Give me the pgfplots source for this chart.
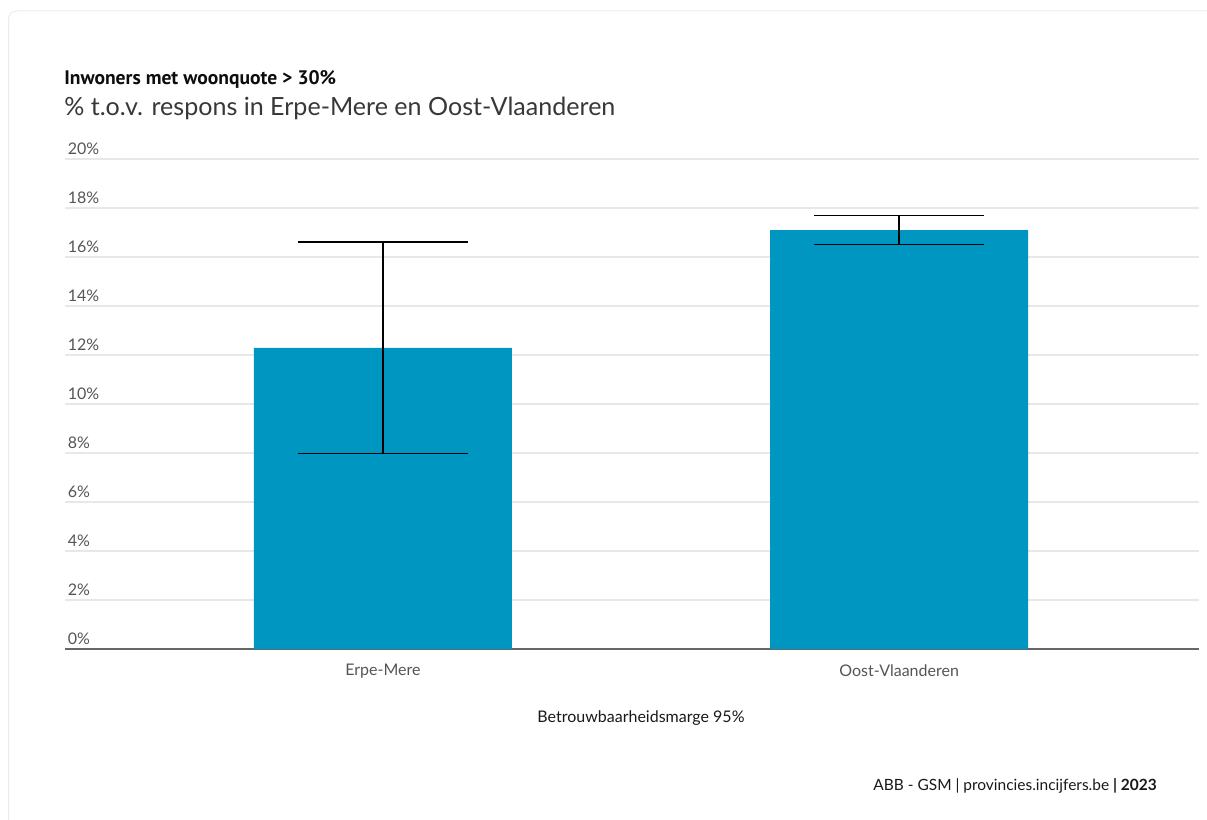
\documentclass[border=0pt]{standalone}
\usepackage{pgfplots}
\pgfplotsset{compat=1.18}
\usepackage{fontspec}
\setmainfont{Lato}
\newfontfamily\titlefont{PT Sans}
\definecolor{barblue}{HTML}{0096C2}
\definecolor{ticktext}{HTML}{555555}
\definecolor{gridgray}{HTML}{E8E8E8}
\definecolor{basegray}{HTML}{666666}
\begin{document}
\begin{tikzpicture}
\begin{scope}[x=0.75pt,y=0.75pt]
\useasboundingbox (0,0) rectangle (1207,819);
\clip (0,0) rectangle (1207,819);
\draw[draw=black!8, line width=0.75pt, rounded corners=6] (8.5,-20) rectangle (1230,808);
\node[anchor=base west, inner sep=0, font=\titlefont\fontsize{14.7}{18}\selectfont\bfseries, text=black!95] at (64,734) {Inwoners met woonquote > 30\%};
\node[anchor=base west, inner sep=0, font=\fontsize{18.8}{22}\selectfont, text=black!78] at (64,703) {\% t.o.v. respons in Erpe-Mere en Oost-Vlaanderen};
\node[anchor=base, inner sep=0, font=\fontsize{12}{14}\selectfont, text=black!90] at (641,97) {Betrouwbaarheidsmarge 95\%};
\node[anchor=base east, inner sep=0, font=\fontsize{11.6}{14}\selectfont, text=black!90] at (1157,29) {ABB - GSM | provincies.incijfers.be \textbf{| 2023}};
\end{scope}
\begin{axis}[
  at={(48.75pt,127.5pt)}, anchor=south west,
  scale only axis, width=850.5pt, height=367.5pt,
  xmin=-0.616, xmax=1.581, ymin=0, ymax=20,
  ybar, bar width=193.5pt, bar shift=0pt,
  axis x line=bottom, axis y line=left,
  x axis line style={draw=basegray, line width=1.1pt, -},
  y axis line style={draw=none},
  major tick length=0,
  ymajorgrids, grid style={draw=gridgray, line width=0.9pt},
  ytick={0,2,...,20},
  yticklabels={0\%,2\%,4\%,6\%,8\%,10\%,12\%,14\%,16\%,18\%,20\%},
  yticklabel style={anchor=south west, inner xsep=0pt, inner ysep=3pt, xshift=2pt, font=\fontsize{12}{14}\selectfont, text=ticktext},
  xtick={0,1}, xticklabels={Erpe-Mere,Oost-Vlaanderen},
  xticklabel style={yshift=-8pt, font=\fontsize{12}{14}\selectfont, text=ticktext},
  clip=false,
]
\addplot[fill=barblue, draw=none,
  error bars/.cd, y dir=both, y explicit, error mark=|,
  error bar style={black, line width=1.1pt},
  error mark options={black, line width=1.1pt, mark size=63.75pt}]
  coordinates {(0,12.29) +- (0,4.32) (1,17.10) +- (0,0.59)};
\end{axis}
\end{tikzpicture}
\end{document}
